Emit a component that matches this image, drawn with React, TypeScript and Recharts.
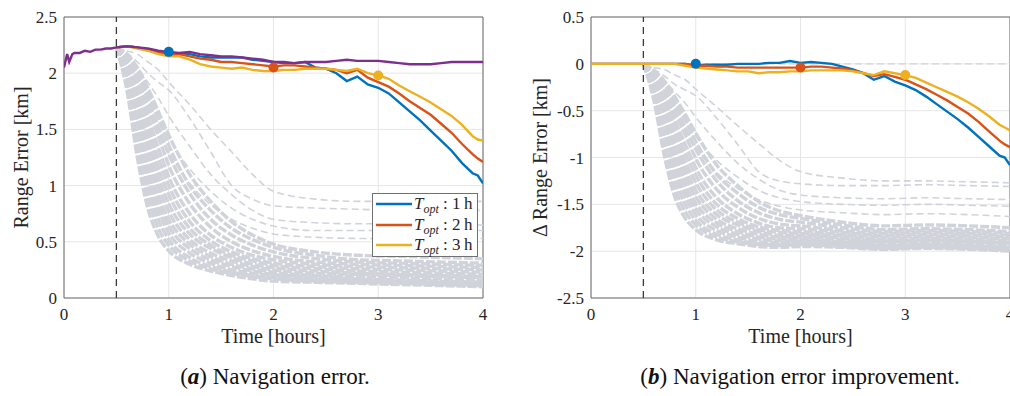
import React from 'react';
import {
  LineChart,
  Line,
  XAxis,
  YAxis,
  CartesianGrid,
  ReferenceLine,
  ReferenceDot,
  ReferenceArea,
  Legend,
} from 'recharts';

// ---------- data ----------
const xTicks = [0, 1, 2, 3, 4];
const yTicksA = [0, 0.5, 1, 1.5, 2, 2.5];
const yTicksB = [-2.5, -2, -1.5, -1, -0.5, 0, 0.5];

// baseline (no optimisation), panel (a)
const purpleT = [0, 0.03, 0.05, 0.08, 0.1, 0.15, 0.2, 0.25, 0.3, 0.35, 0.4, 0.45, 0.5, 0.6, 0.7, 0.8, 0.9, 1.0, 1.1, 1.2, 1.3, 1.4, 1.5, 1.6, 1.7, 1.8, 1.9, 2.0, 2.1, 2.2, 2.3, 2.4, 2.5, 2.6, 2.7, 2.8, 2.9, 3.0, 3.1, 3.2, 3.3, 3.4, 3.5, 3.6, 3.7, 3.8, 3.9, 4.0];
const purpleA = [2.05, 2.17, 2.1, 2.17, 2.18, 2.18, 2.2, 2.19, 2.21, 2.21, 2.22, 2.22, 2.23, 2.24, 2.23, 2.22, 2.2, 2.19, 2.18, 2.19, 2.17, 2.16, 2.15, 2.15, 2.14, 2.13, 2.12, 2.1, 2.1, 2.09, 2.1, 2.1, 2.1, 2.11, 2.12, 2.11, 2.11, 2.11, 2.1, 2.09, 2.08, 2.08, 2.08, 2.09, 2.1, 2.1, 2.1, 2.1];

// optimised runs
const colT = [0.5, 0.6, 0.7, 0.8, 0.9, 1.0, 1.1, 1.2, 1.3, 1.4, 1.5, 1.6, 1.7, 1.8, 1.9, 2.0, 2.1, 2.2, 2.3, 2.4, 2.5, 2.6, 2.7, 2.8, 2.9, 3.0, 3.1, 3.2, 3.3, 3.4, 3.5, 3.6, 3.7, 3.8, 3.9, 3.95, 4.0];
const blueA = [2.23, 2.24, 2.23, 2.21, 2.19, 2.16, 2.17, 2.17, 2.15, 2.14, 2.14, 2.14, 2.14, 2.12, 2.11, 2.1, 2.09, 2.09, 2.1, 2.05, 2.04, 2.0, 1.93, 1.97, 1.9, 1.87, 1.82, 1.74, 1.66, 1.58, 1.49, 1.4, 1.31, 1.2, 1.11, 1.09, 1.02];
const redA = [2.23, 2.24, 2.23, 2.21, 2.19, 2.16, 2.17, 2.15, 2.13, 2.12, 2.1, 2.1, 2.09, 2.08, 2.07, 2.06, 2.07, 2.07, 2.06, 2.05, 2.04, 2.03, 2.0, 2.03, 1.96, 1.92, 1.88, 1.82, 1.75, 1.69, 1.63, 1.55, 1.47, 1.37, 1.28, 1.24, 1.21];
const yellowA = [2.23, 2.24, 2.22, 2.2, 2.17, 2.15, 2.15, 2.12, 2.08, 2.06, 2.05, 2.04, 2.05, 2.03, 2.02, 2.02, 2.03, 2.03, 2.04, 2.04, 2.04, 2.03, 2.02, 2.04, 2.0, 1.98, 1.95, 1.89, 1.84, 1.79, 1.74, 1.68, 1.62, 1.54, 1.44, 1.41, 1.4];

const colTB = [0, 0.5, 0.6, 0.7, 0.8, 0.9, 1.0, 1.1, 1.2, 1.3, 1.4, 1.5, 1.6, 1.7, 1.8, 1.9, 2.0, 2.1, 2.2, 2.3, 2.4, 2.5, 2.6, 2.7, 2.8, 2.9, 3.0, 3.1, 3.2, 3.3, 3.4, 3.5, 3.6, 3.7, 3.8, 3.9, 3.95, 4.0];
const blueB = [0, 0, 0, 0, 0, 0, -0.02, -0.01, -0.01, -0.01, 0, 0, 0, 0.01, 0.01, 0.03, 0.01, 0.02, 0.01, 0, -0.03, -0.06, -0.1, -0.17, -0.13, -0.19, -0.23, -0.28, -0.35, -0.43, -0.51, -0.59, -0.68, -0.78, -0.88, -0.98, -1.0, -1.08];
const redB = [0, 0, 0, 0, 0, 0, -0.02, -0.02, -0.03, -0.03, -0.04, -0.04, -0.04, -0.04, -0.04, -0.04, -0.04, -0.03, -0.03, -0.04, -0.05, -0.07, -0.1, -0.13, -0.11, -0.14, -0.17, -0.22, -0.27, -0.33, -0.39, -0.46, -0.53, -0.62, -0.72, -0.82, -0.86, -0.89];
const yellowB = [0, 0, 0, 0, 0, -0.02, -0.04, -0.05, -0.06, -0.07, -0.08, -0.08, -0.1, -0.09, -0.09, -0.08, -0.08, -0.07, -0.07, -0.07, -0.07, -0.08, -0.1, -0.12, -0.08, -0.1, -0.12, -0.15, -0.2, -0.25, -0.3, -0.35, -0.41, -0.48, -0.56, -0.65, -0.68, -0.71];

// markers at the optimisation times
const markerT = [1, 2, 3];
const markerA = [2.19, 2.05, 1.98];
const markerB = [0.0, -0.04, -0.12];

// Monte-Carlo (gray dashed) runs
const grayT = [0.5, 0.6, 0.7, 0.8, 0.9, 1.0, 1.2, 1.4, 1.6, 1.8, 2.0, 2.4, 2.8, 3.2, 3.6, 4.0];
const denseA = [
  [2.23, 1.85, 1.25, 0.8, 0.55, 0.42, 0.3, 0.24, 0.2, 0.17, 0.15, 0.14, 0.13, 0.12, 0.11, 0.1],
  [2.23, 1.9, 1.35, 0.9, 0.62, 0.47, 0.33, 0.26, 0.22, 0.19, 0.17, 0.15, 0.14, 0.13, 0.12, 0.11],
  [2.23, 1.93, 1.45, 1.0, 0.7, 0.52, 0.36, 0.28, 0.23, 0.2, 0.18, 0.16, 0.15, 0.14, 0.13, 0.12],
  [2.23, 1.95, 1.52, 1.08, 0.78, 0.58, 0.4, 0.31, 0.25, 0.22, 0.2, 0.17, 0.16, 0.15, 0.14, 0.13],
  [2.23, 1.97, 1.58, 1.15, 0.85, 0.64, 0.44, 0.34, 0.28, 0.24, 0.21, 0.19, 0.17, 0.16, 0.15, 0.14],
  [2.23, 2.0, 1.64, 1.24, 0.92, 0.7, 0.48, 0.37, 0.3, 0.26, 0.23, 0.2, 0.19, 0.18, 0.17, 0.16],
  [2.23, 2.02, 1.7, 1.32, 1.0, 0.77, 0.52, 0.4, 0.33, 0.28, 0.25, 0.22, 0.21, 0.2, 0.19, 0.18],
  [2.23, 2.04, 1.76, 1.4, 1.08, 0.84, 0.57, 0.44, 0.36, 0.3, 0.27, 0.24, 0.22, 0.21, 0.2, 0.19],
  [2.23, 2.06, 1.8, 1.48, 1.16, 0.92, 0.62, 0.47, 0.38, 0.33, 0.29, 0.26, 0.24, 0.23, 0.22, 0.21],
  [2.23, 2.08, 1.85, 1.55, 1.25, 1.0, 0.68, 0.51, 0.41, 0.35, 0.31, 0.28, 0.26, 0.25, 0.24, 0.23],
  [2.23, 2.1, 1.9, 1.62, 1.34, 1.08, 0.75, 0.56, 0.45, 0.38, 0.34, 0.3, 0.28, 0.27, 0.26, 0.25],
  [2.23, 2.12, 1.94, 1.7, 1.44, 1.18, 0.84, 0.63, 0.5, 0.42, 0.37, 0.32, 0.3, 0.29, 0.28, 0.27],
  [2.23, 2.14, 1.98, 1.77, 1.52, 1.28, 0.93, 0.7, 0.56, 0.47, 0.41, 0.35, 0.32, 0.31, 0.3, 0.29],
  [2.23, 2.16, 2.02, 1.82, 1.6, 1.36, 1.0, 0.78, 0.62, 0.52, 0.45, 0.38, 0.34, 0.33, 0.32, 0.31],
  [2.23, 2.17, 2.05, 1.87, 1.66, 1.45, 1.1, 0.86, 0.68, 0.56, 0.48, 0.41, 0.38, 0.37, 0.36, 0.35],
];
const sparseA = [
  [2.23, 2.08, 1.88, 1.68, 1.48, 1.3, 1.02, 0.83, 0.7, 0.62, 0.57, 0.54, 0.53, 0.53, 0.53, 0.53],
  [2.23, 2.1, 1.95, 1.78, 1.6, 1.42, 1.15, 0.95, 0.8, 0.7, 0.64, 0.6, 0.6, 0.6, 0.6, 0.6],
  [2.23, 2.15, 2.05, 1.92, 1.78, 1.62, 1.35, 1.1, 0.92, 0.78, 0.7, 0.67, 0.66, 0.66, 0.65, 0.65],
  [2.23, 2.18, 2.1, 2.0, 1.92, 1.85, 1.6, 1.3, 1.0, 0.88, 0.82, 0.8, 0.79, 0.78, 0.78, 0.78],
  [2.23, 2.2, 2.17, 2.1, 2.03, 1.92, 1.72, 1.5, 1.3, 1.1, 0.95, 0.88, 0.86, 0.86, 0.86, 0.86],
];
const denseB = [
  [0, -0.39, -0.98, -1.42, -1.65, -1.77, -1.88, -1.92, -1.95, -1.96, -1.95, -1.96, -1.98, -1.97, -1.98, -2.0],
  [0, -0.34, -0.88, -1.32, -1.58, -1.72, -1.85, -1.9, -1.93, -1.94, -1.93, -1.95, -1.97, -1.96, -1.97, -1.99],
  [0, -0.31, -0.78, -1.22, -1.5, -1.67, -1.82, -1.88, -1.92, -1.93, -1.92, -1.94, -1.96, -1.95, -1.96, -1.98],
  [0, -0.29, -0.71, -1.14, -1.42, -1.61, -1.78, -1.85, -1.9, -1.91, -1.9, -1.93, -1.95, -1.94, -1.95, -1.97],
  [0, -0.27, -0.65, -1.07, -1.35, -1.55, -1.74, -1.82, -1.87, -1.89, -1.89, -1.91, -1.94, -1.93, -1.94, -1.96],
  [0, -0.24, -0.59, -0.98, -1.28, -1.49, -1.7, -1.79, -1.85, -1.87, -1.87, -1.9, -1.92, -1.91, -1.92, -1.94],
  [0, -0.22, -0.53, -0.9, -1.2, -1.42, -1.66, -1.76, -1.82, -1.85, -1.85, -1.88, -1.9, -1.89, -1.9, -1.92],
  [0, -0.2, -0.47, -0.82, -1.12, -1.35, -1.61, -1.72, -1.79, -1.83, -1.83, -1.86, -1.89, -1.88, -1.89, -1.91],
  [0, -0.18, -0.43, -0.74, -1.04, -1.27, -1.56, -1.69, -1.77, -1.8, -1.81, -1.84, -1.87, -1.86, -1.87, -1.89],
  [0, -0.16, -0.38, -0.67, -0.95, -1.19, -1.5, -1.65, -1.74, -1.78, -1.79, -1.82, -1.85, -1.84, -1.85, -1.87],
  [0, -0.14, -0.33, -0.6, -0.86, -1.11, -1.43, -1.6, -1.7, -1.75, -1.76, -1.8, -1.83, -1.82, -1.83, -1.85],
  [0, -0.12, -0.29, -0.52, -0.76, -1.01, -1.34, -1.53, -1.65, -1.71, -1.73, -1.78, -1.81, -1.8, -1.81, -1.83],
  [0, -0.1, -0.25, -0.45, -0.68, -0.91, -1.25, -1.46, -1.59, -1.66, -1.69, -1.75, -1.79, -1.78, -1.79, -1.81],
  [0, -0.08, -0.21, -0.4, -0.6, -0.83, -1.18, -1.38, -1.53, -1.61, -1.65, -1.72, -1.77, -1.76, -1.77, -1.79],
  [0, -0.07, -0.18, -0.35, -0.54, -0.74, -1.08, -1.3, -1.47, -1.57, -1.62, -1.69, -1.73, -1.72, -1.73, -1.75],
];
const sparseB = [
  [0, -0.16, -0.35, -0.54, -0.72, -0.89, -1.16, -1.33, -1.45, -1.52, -1.56, -1.59, -1.61, -1.6, -1.61, -1.63],
  [0, -0.14, -0.28, -0.44, -0.6, -0.77, -1.03, -1.21, -1.35, -1.43, -1.47, -1.5, -1.51, -1.5, -1.51, -1.52],
  [0, -0.09, -0.18, -0.3, -0.42, -0.57, -0.83, -1.06, -1.23, -1.35, -1.4, -1.43, -1.44, -1.43, -1.44, -1.45],
  [0, -0.06, -0.13, -0.22, -0.28, -0.34, -0.58, -0.86, -1.15, -1.25, -1.28, -1.3, -1.3, -1.29, -1.3, -1.31],
  [0, -0.04, -0.06, -0.12, -0.17, -0.27, -0.46, -0.66, -0.85, -1.03, -1.15, -1.22, -1.25, -1.25, -1.26, -1.27],
];

const legendHours = ['1', '2', '3'];

// ---------- styles ----------
const BLUE = '#0072BD';
const RED = '#D95319';
const YELLOW = '#EDB120';
const PURPLE = '#7E2F8E';
const GRAY = '#D0D4DA';
const legendColors = [BLUE, RED, YELLOW];
const FONT = '"Liberation Serif", "DejaVu Serif", serif';
const TXT = '#262626';

const toPts = (ts: number[], vs: (number | null)[]) => ts.map((t, i) => ({ t, v: vs[i] }));

function YTitle(props: any) {
  const vb = props.viewBox || { x: 0, y: 0, width: 0, height: 0 };
  const cx = vb.x + props.off;
  const cy = vb.y + vb.height / 2;
  return (
    <text x={cx} y={cy} transform={`rotate(-90, ${cx}, ${cy})`} textAnchor="middle" dominantBaseline="central" fontFamily={FONT} fontSize={20} fill={TXT}>
      {props.text}
    </text>
  );
}

function XTitle(props: any) {
  const vb = props.viewBox || { x: 0, y: 0, width: 0, height: 0 };
  const cx = vb.x + vb.width / 2;
  const cy = vb.y + props.off;
  return (
    <text x={cx} y={cy} textAnchor="middle" dominantBaseline="central" fontFamily={FONT} fontSize={20} fill={TXT}>
      {props.text}
    </text>
  );
}

function OptLegend() {
  return (
    <div style={{ boxSizing: 'border-box', width: 106, border: '1px solid #707070', background: '#fff', padding: '0 2px 0 3px', fontFamily: FONT, fontSize: 17, color: TXT }}>
      {legendHours.map((h, i) => (
        <div key={h} style={{ display: 'flex', alignItems: 'center', height: 20.5 }}>
          <svg width={36} height={6} style={{ flex: 'none' }}>
            <line x1={0} y1={3} x2={36} y2={3} stroke={legendColors[i]} strokeWidth={2.6} />
          </svg>
          <span style={{ marginLeft: 2, whiteSpace: 'nowrap' }}>
            <i>T</i>
            <span style={{ fontStyle: 'italic', fontSize: 12, position: 'relative', top: 4 }}>opt</span>
            {' : '}{h}{'\u2009'}h
          </span>
        </div>
      ))}
    </div>
  );
}

const tickStyle = { fill: TXT, fontSize: 17, fontFamily: FONT };

function grayLines(runs: number[][], prefix: string, width: number, dash: string) {
  return runs.map((r, i) => (
    <Line
      key={prefix + i}
      data={toPts(grayT, r)}
      dataKey="v"
      type="monotone"
      stroke={GRAY}
      strokeWidth={width}
      strokeDasharray={dash}
      dot={false}
      activeDot={false}
      legendType="none"
      isAnimationActive={false}
    />
  ));
}

function colLine(ts: number[], vs: number[], color: string, key: string) {
  return (
    <Line
      key={key}
      data={toPts(ts, vs)}
      dataKey="v"
      type="linear"
      stroke={color}
      strokeWidth={2.4}
      dot={false}
      activeDot={false}
      legendType="none"
      isAnimationActive={false}
    />
  );
}

export default function App() {
  return (
    <div style={{ position: 'absolute', left: 0, top: 0, width: 1010, height: 396, background: '#fff', overflow: 'hidden' }}>
      {/* panel (a) */}
      <div style={{ position: 'absolute', left: 0, top: 0 }}>
        <LineChart width={500} height={350} margin={{ top: 17, right: 17, bottom: 20, left: 0 }}>
          <CartesianGrid stroke="#e6e6e6" strokeWidth={1} />
          <XAxis
            type="number"
            dataKey="t"
            domain={[0, 4]}
            ticks={xTicks}
            interval={0}
            allowDataOverflow
            height={32}
            tickSize={0}
            tickMargin={10}
            axisLine={false}
            tick={tickStyle}
            label={<XTitle text="Time [hours]" off={38} />}
          />
          <YAxis
            type="number"
            domain={[0, 2.5]}
            ticks={yTicksA}
            interval={0}
            allowDataOverflow
            width={64}
            tickSize={0}
            tickMargin={7}
            axisLine={false}
            tick={tickStyle}
            label={<YTitle text="Range Error [km]" off={21} />}
          />
          {grayLines(denseA, 'da', 3.4, '9 2')}
          {grayLines(sparseA, 'sa', 1.6, '7 4')}
          <ReferenceLine x={0.5} stroke="#3a3a3a" strokeWidth={1.3} strokeDasharray="7 5" />
          {colLine(colT, blueA, BLUE, 'ba')}
          {colLine(colT, redA, RED, 'ra')}
          {colLine(colT, yellowA, YELLOW, 'ya')}
          {colLine(purpleT, purpleA, PURPLE, 'pa')}
          {markerT.map((t, i) => (
            <ReferenceDot key={'ma' + i} x={t} y={markerA[i]} r={5} fill={legendColors[i]} stroke="none" />
          ))}
          <ReferenceArea x1={0} x2={4} y1={0} y2={2.5} fill="none" stroke="#6a6a6a" strokeWidth={1} />
          <Legend
            layout="horizontal"
            verticalAlign="middle"
            align="center"
            content={() => <OptLegend />}
            wrapperStyle={{ left: 372, top: 193, width: 106, height: 'auto' }}
          />
        </LineChart>
      </div>

      {/* panel (b) */}
      <div style={{ position: 'absolute', left: 505, top: 0 }}>
        <LineChart width={505} height={350} margin={{ top: 17, right: 0, bottom: 20, left: 0 }}>
          <CartesianGrid stroke="#e6e6e6" strokeWidth={1} />
          <XAxis
            type="number"
            dataKey="t"
            domain={[0, 4]}
            ticks={xTicks}
            interval={0}
            allowDataOverflow
            height={32}
            tickSize={0}
            tickMargin={10}
            axisLine={false}
            tick={tickStyle}
            label={<XTitle text="Time [hours]" off={38} />}
          />
          <YAxis
            type="number"
            domain={[-2.5, 0.5]}
            ticks={yTicksB}
            interval={0}
            allowDataOverflow
            width={86}
            tickSize={0}
            tickMargin={7}
            axisLine={false}
            tick={tickStyle}
            label={<YTitle text="Δ Range Error [km]" off={35} />}
          />
          <ReferenceLine y={0} stroke="#d4d4d4" strokeWidth={1.2} strokeDasharray="7 4" />
          {grayLines(denseB, 'db', 3.4, '9 2')}
          {grayLines(sparseB, 'sb', 1.6, '7 4')}
          <ReferenceLine x={0.5} stroke="#3a3a3a" strokeWidth={1.3} strokeDasharray="7 5" />
          {colLine(colTB, blueB, BLUE, 'bb')}
          {colLine(colTB, redB, RED, 'rb')}
          {colLine(colTB, yellowB, YELLOW, 'yb')}
          {markerT.map((t, i) => (
            <ReferenceDot key={'mb' + i} x={t} y={markerB[i]} r={5} fill={legendColors[i]} stroke="none" />
          ))}
          <ReferenceArea x1={0} x2={4} y1={-2.5} y2={0.5} fill="none" stroke="#6a6a6a" strokeWidth={1} />
        </LineChart>
      </div>

      {/* captions */}
      <div style={{ position: 'absolute', left: 75, top: 363, width: 400, textAlign: 'center', fontFamily: FONT, fontSize: 23, lineHeight: '28px', color: '#111' }}>
        (<b><i>a</i></b>) Navigation error.
      </div>
      <div style={{ position: 'absolute', left: 600, top: 363, width: 400, textAlign: 'center', fontFamily: FONT, fontSize: 23, lineHeight: '28px', color: '#111' }}>
        (<b><i>b</i></b>) Navigation error improvement.
      </div>
    </div>
  );
}
